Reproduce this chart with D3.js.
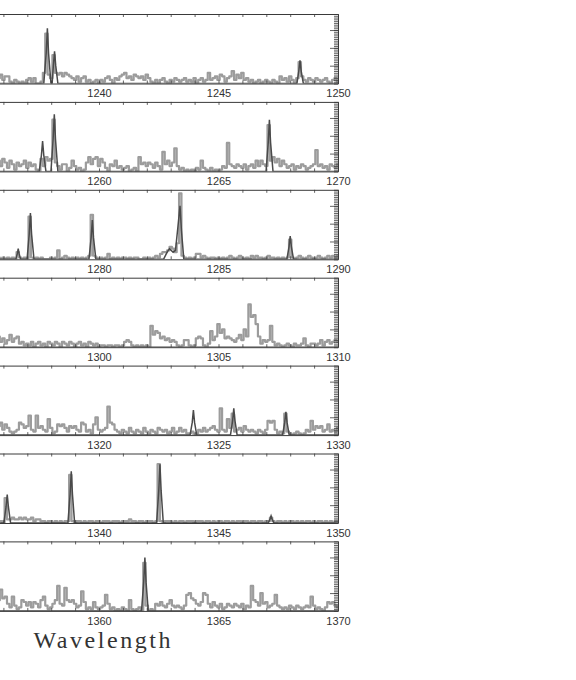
<!DOCTYPE html>
<html><head><meta charset="utf-8">
<script src="https://cdn.jsdelivr.net/npm/d3@7"></script>
<style>body{margin:0;background:#fff}</style>
</head><body>
<script>
// Panel wavelength ranges (each panel spans 20 units)
const panelStarts = [1230, 1250, 1270, 1290, 1310, 1330, 1350];
const panelSpan = 20;
// Gray (observed) spectrum: values sampled every 0.1 starting at start+5.8
const grayOffset = 5.8, grayStep = 0.1;
const gray1 = [3,5,2,4,4,1,0,2,1,0, 1,0,2,3,1,3,0,0,1,6, 28,5,3,16,6,5,6,4,6,5, 4,3,2,4,1,3,4,1,2,0, 1,2,0,2,1,3,4,2,0,3, 2,4,5,6,3,4,2,5,4,3, 4,2,5,3,1,0,2,0,2,3, 1,0,2,1,3,2,1,2,3,1, 2,1,3,0,2,3,1,2,6,2, 3,4,2,5,4,1,3,4,7,2, 5,3,6,2,3,1,2,0,1,2, 0,1,2,1,0,2,1,0,4,2, 3,1,4,2,0,3,12,4,2,1, 3,2,1,3,2,1,2,3,1,0,2,3,1];
const gray2 = [6,3,7,5,2,6,4,1,5,3, 4,6,2,5,3,4,1,0,7,3, 8,6,7,29,5,3,1,4,4,0, 2,6,3,1,2,0,1,5,8,4, 7,8,3,7,5,2,0,4,3,6, 2,3,1,2,3,0,1,2,0,8, 4,5,3,5,4,2,5,3,1,11, 4,6,3,5,13,3,1,2,0,1, 0,1,0,2,1,6,2,1,0,2, 0,1,0,1,3,2,16,4,3,2, 4,3,2,4,1,3,4,2,6,3, 6,4,3,26,6,8,5,7,3,6, 4,2,3,4,1,3,2,4,3,1, 2,3,4,12,3,4,2,3,1,4,3,2,4];
const gray3 = [1,0,1,0,1,0,1,0,4,1, 0,1,0,24,1,0,1,0,1,0, 0,0,1,0,1,5,0,1,2,1, 0,1,0,1,0,1,0,1,2,25, 2,1,0,1,0,1,3,0,1,0, 1,0,1,1,0,1,0,1,1,0, 0,1,0,1,0,1,2,1,3,4, 4,5,7,6,4,9,37,2,1,0, 1,0,1,3,3,1,2,1,0,1, 1,0,1,0,1,0,1,2,1,0, 1,2,1,0,1,0,2,1,2,1, 1,0,1,2,1,1,0,1,0,1, 0,1,11,1,0,1,2,1,0,1, 2,1,0,1,2,1,0,1,2,1,2,1,2];
const gray4 = [6,3,5,2,4,7,3,5,6,2, 3,1,2,1,3,0,2,3,1,2, 0,3,2,1,3,2,0,3,2,1, 3,2,0,2,3,1,2,0,3,2, 1,2,0,1,1,0,1,1,0,1, 1,0,1,3,4,3,1,0,1,0, 1,0,1,0,12,7,9,8,5,6, 4,5,3,4,3,1,0,1,4,4, 1,0,1,5,6,5,1,0,2,9, 4,6,13,8,10,5,6,5,4,3, 5,7,4,10,6,24,17,18,13,6, 2,4,3,4,12,3,1,2,1,0, 1,2,1,0,2,1,1,2,5,1, 0,2,2,1,2,4,1,3,4,2,3,4,3];
const gray5 = [5,7,3,6,4,2,1,2,3,7, 6,4,5,11,3,2,11,4,5,3, 2,9,4,1,2,6,5,6,4,2, 5,4,5,3,2,7,6,2,3,1, 6,10,3,2,3,4,16,7,6,3, 2,1,3,2,1,4,2,1,3,2, 1,4,2,1,3,2,1,4,3,2, 3,1,2,4,1,2,4,2,3,1, 1,2,0,1,3,2,4,2,3,4, 5,3,2,15,3,2,9,4,12,2, 3,4,2,5,3,2,3,2,1,3, 2,1,3,8,7,8,3,1,2,1, 12,2,1,0,1,2,1,0,1,3, 2,8,3,5,4,5,2,3,6,2,3,2,4];
const gray6 = [1,1,0,14,2,2,3,2,2,3, 2,3,2,2,3,1,2,2,1,1, 0,1,1,0,1,0,1,0,1,1, 27,1,0,1,1,0,1,0,1,1, 0,1,1,0,1,1,1,0,1,1, 1,0,1,1,1,2,1,1,0,1, 1,0,1,1,1,0,1,33,1,0, 1,1,1,0,1,0,1,1,0,1, 1,1,0,1,1,1,0,1,1,0, 1,0,1,1,0,1,1,0,1,0, 1,1,0,1,1,0,1,1,0,1, 1,0,1,1,3,1,0,1,1,0, 1,0,1,1,0,1,0,1,0,1, 1,0,1,0,1,1,0,1,0,1,0,1,1];
const gray7 = [6,12,7,8,4,2,8,3,1,2, 6,5,3,5,2,5,4,2,6,8, 3,1,2,4,6,14,4,3,13,6, 5,6,4,2,3,11,5,1,2,1, 5,2,1,2,3,9,4,1,2,0, 1,0,2,1,0,6,1,0,1,2, 0,27,3,0,1,0,4,3,5,3, 2,4,6,3,2,3,2,1,3,9, 10,7,6,4,3,5,10,9,4,2, 5,3,2,4,1,2,4,3,2,4, 3,2,4,1,3,2,14,6,5,3, 10,4,5,2,3,4,9,3,2,1, 2,1,3,2,1,3,2,1,2,3, 2,8,3,1,2,1,0,2,5,4,5,3,2];
// Dark (line) spectrum: [wavelength, value] points
const dark1 = [[1235.5,0],[1237.69,0],[1237.79,17],[1237.84,31],[1237.89,17],[1237.99,0],[1238.04,0],[1238.09,10],[1238.14,18],[1238.19,10],[1238.28,0],[1248.28,0],[1248.36,7],[1248.41,13],[1248.46,7],[1248.55,0],[1250,0]];
const dark2 = [[1255.5,0],[1257.5,0],[1257.59,9],[1257.64,17],[1257.69,9],[1257.78,0],[1257.99,0],[1258.08,18],[1258.13,32],[1258.18,18],[1258.28,0],[1266.99,0],[1267.08,16],[1267.13,29],[1267.18,16],[1267.28,0],[1270,0]];
const dark3 = [[1275.5,0],[1276.52,0],[1276.58,3],[1276.62,6],[1276.66,3],[1276.72,0],[1276.99,0],[1277.08,14],[1277.13,26],[1277.18,14],[1277.28,0],[1279.58,0],[1279.67,12],[1279.72,22],[1279.77,12],[1279.87,0],[1282.7,0],[1282.85,4],[1282.95,6],[1283.1,4],[1283.2,5],[1283.3,18],[1283.39,30],[1283.45,16],[1283.55,0],[1287.86,0],[1287.95,7],[1288.0,13],[1288.05,7],[1288.14,0],[1290,0]];
const dark4 = [[1295.5,0],[1310,0]];
const dark5 = [[1315.5,0],[1323.81,0],[1323.9,7],[1323.95,14],[1324.0,7],[1324.09,0],[1325.5,0],[1325.59,8],[1325.64,15],[1325.69,8],[1325.78,0],[1327.68,0],[1327.77,7],[1327.82,13],[1327.87,7],[1327.96,0],[1330,0]];
const dark6 = [[1335.5,0],[1336.02,0],[1336.11,9],[1336.16,16],[1336.21,9],[1336.3,0],[1338.7,0],[1338.79,16],[1338.84,29],[1338.89,16],[1338.98,0],[1342.41,0],[1342.5,18],[1342.55,33],[1342.6,18],[1342.69,0],[1347.08,0],[1347.15,2],[1347.2,4],[1347.25,2],[1347.32,0],[1350,0]];
const dark7 = [[1355.5,0],[1361.78,0],[1361.87,16],[1361.92,30],[1361.97,16],[1362.06,0],[1370,0]];
const grays = [gray1, gray2, gray3, gray4, gray5, gray6, gray7];
const darks = [dark1, dark2, dark3, dark4, dark5, dark6, dark7];
const yMax = 39;
const xTitle = "Wavelength";

const W = 576, H = 680;
const X0 = -140, X1 = 338, TOP0 = 14, PITCH = 87.9, PH = 69.5;
const frameColor = "#3a3a3a";

const svg = d3.select("body").append("svg").attr("width", W).attr("height", H)
  .style("font-family", "'Liberation Sans', Arial, sans-serif");
const defs = svg.append("defs");

panelStarts.forEach((s, k) => {
  const top = TOP0 + PITCH * k, bot = top + PH;
  const x = d3.scaleLinear().domain([s, s + panelSpan]).range([X0, X1]);
  const y = d3.scaleLinear().domain([0, yMax]).range([bot, top]);
  const g = svg.append("g");
  defs.append("clipPath").attr("id", "c" + k).append("rect")
    .attr("x", X0).attr("y", top).attr("width", X1 - X0).attr("height", PH);

  const plot = g.append("g").attr("clip-path", `url(#c${k})`);
  const gp = grays[k].map((v, i) => [s + grayOffset + grayStep * i, v]);
  plot.append("path").datum(gp)
    .attr("d", d3.line().curve(d3.curveStep).x(d => x(d[0])).y(d => y(d[1])))
    .attr("fill", "none").attr("stroke", "#9c9c9c").attr("stroke-width", 2.2)
    .attr("stroke-linejoin", "round");
  plot.append("path").datum(darks[k])
    .attr("d", d3.line().x(d => x(d[0])).y(d => y(d[1])))
    .attr("fill", "none").attr("stroke", "#4a4a4a").attr("stroke-width", 1.5);

  const minorX = d3.range(s, s + panelSpan + 0.001, 1);
  const majorX = d3.range(s, s + panelSpan + 0.001, 5).filter(v => x(v) - 12 >= 0);
  // top axis (ticks into plot)
  const ta = g.append("g").attr("transform", `translate(0,${top})`)
    .call(d3.axisBottom(x).tickValues(minorX).tickSize(3).tickSizeOuter(0).tickFormat(""));
  // bottom axis ticks (into plot)
  const ba = g.append("g").attr("transform", `translate(0,${bot})`)
    .call(d3.axisTop(x).tickValues(minorX).tickSize(3).tickSizeOuter(0).tickFormat(""));
  // bottom labels
  const bl = g.append("g").attr("transform", `translate(0,${bot})`)
    .call(d3.axisBottom(x).tickValues(majorX).tickSize(0).tickPadding(6).tickFormat(d3.format("d")));
  bl.select(".domain").remove();
  bl.selectAll("text").attr("font-size", 11).attr("fill", "#333")
    .attr("font-family", "'Liberation Sans', Arial, sans-serif");
  // right axis minor + major ticks pointing left
  const ra = g.append("g").attr("transform", `translate(${X1},0)`)
    .call(d3.axisLeft(y).tickValues(d3.range(0, yMax + 0.001, 1)).tickSize(4).tickSizeOuter(0).tickFormat(""));
  const rm = g.append("g").attr("transform", `translate(${X1},0)`)
    .call(d3.axisLeft(y).tickValues([10, 20, 30]).tickSize(8).tickSizeOuter(0).tickFormat(""));
  rm.select(".domain").remove();
  [ta, ba, ra, rm].forEach(a => {
    a.selectAll("line").attr("stroke", frameColor).attr("stroke-width", 0.8);
    a.select(".domain").attr("stroke", frameColor).attr("stroke-width", 1);
  });
});

svg.append("text").attr("x", 102).attr("y", 648)
  .attr("text-anchor", "middle").attr("font-family", "'Liberation Serif', 'DejaVu Serif', serif")
  .attr("font-size", 24).attr("fill", "#333").attr("textLength", 137)
  .attr("lengthAdjust", "spacing").text(xTitle);
</script>
</body></html>
